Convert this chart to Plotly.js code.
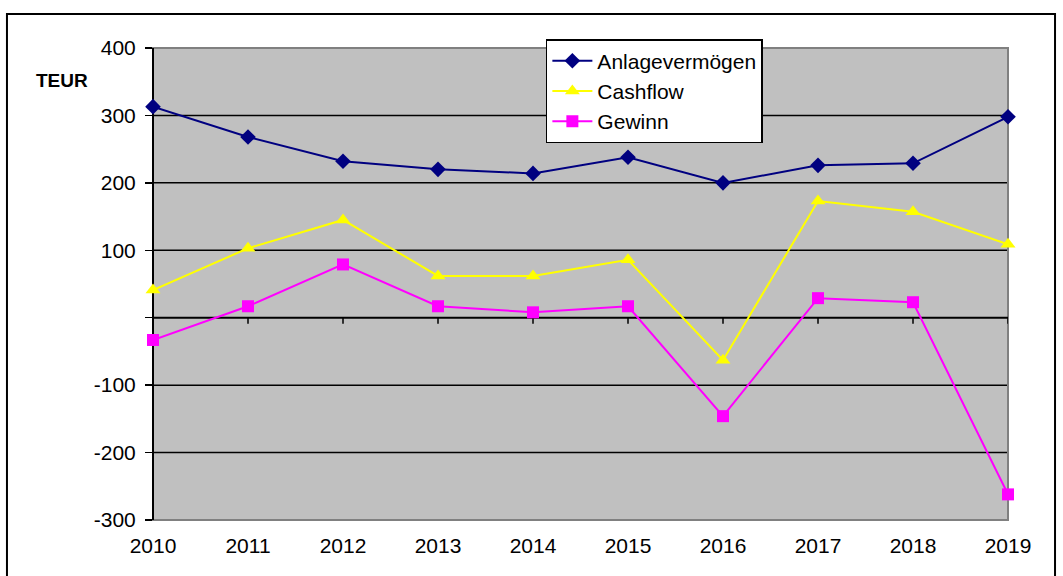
<!DOCTYPE html>
<html>
<head>
<meta charset="utf-8">
<script src="https://cdn.plot.ly/plotly-3.0.1.min.js"></script>
<style>html,body{margin:0;padding:0;background:#fff;}#chart{width:1063px;height:576px;}</style>
</head>
<body>
<div id="chart"></div>
<script>
const years = [2010, 2011, 2012, 2013, 2014, 2015, 2016, 2017, 2018, 2019];
const anlagevermoegen = [313, 268, 232, 220, 214, 238, 200, 226, 229, 298];
const cashflow = [41, 103, 145, 62, 62, 86, -63, 173, 157, 109];
const gewinn = [-33, 17, 79, 17, 8, 17, -146, 29, 23, -262];
const yTickVals = [-300, -200, -100, 0, 100, 200, 300, 400];
const yTickText = ['-300', '-200', '-100', '', '100', '200', '300', '400'];

const fontFam = 'Arial, "Liberation Sans", sans-serif';

const traces = [
  {x: years, y: anlagevermoegen, name: 'Anlagevermögen', type: 'scatter', mode: 'lines+markers', cliponaxis: false,
   line: {color: '#000080', width: 2}, marker: {symbol: 'diamond', size: 12, color: '#000080'}},
  {x: years, y: cashflow, name: 'Cashflow', type: 'scatter', mode: 'lines+markers', cliponaxis: false,
   line: {color: '#FFFF00', width: 2}, marker: {symbol: 'triangle-up', size: 13, color: '#FFFF00'}},
  {x: years, y: gewinn, name: 'Gewinn', type: 'scatter', mode: 'lines+markers', cliponaxis: false,
   line: {color: '#FF00FF', width: 2}, marker: {symbol: 'square', size: 12, color: '#FF00FF'}}
];

const shapes = [];
// outer frame
shapes.push({type: 'rect', xref: 'paper', yref: 'paper', x0: -0.1708, x1: 1.055, y0: -0.2, y1: 1.072,
  line: {color: '#000', width: 2}, fillcolor: 'rgba(0,0,0,0)', layer: 'below'});
// gridlines
[-200, -100, 100, 200, 300].forEach(v => shapes.push({type: 'line', xref: 'paper', yref: 'y',
  x0: 0, x1: 1, y0: v, y1: v, line: {color: '#000', width: 1.5}, layer: 'between'}));
// plot border gray
shapes.push({type: 'rect', xref: 'paper', yref: 'paper', x0: 0, x1: 1, y0: 0, y1: 1,
  line: {color: '#808080', width: 2}, fillcolor: 'rgba(0,0,0,0)', layer: 'between'});
// zero line
shapes.push({type: 'line', xref: 'paper', yref: 'y', x0: 0, x1: 1, y0: 0, y1: 0,
  line: {color: '#000', width: 2}, layer: 'between'});
// left axis line
shapes.push({type: 'line', xref: 'paper', yref: 'paper', x0: 0, x1: 0, y0: 0, y1: 1,
  line: {color: '#000', width: 2}, layer: 'between'});
// x ticks on zero line
years.forEach(yr => shapes.push({type: 'line', xref: 'x', yref: 'y', x0: yr, x1: yr, y0: 0, y1: -9,
  line: {color: '#000', width: 1.5}, layer: 'between'}));

const layout = {
  width: 1063, height: 576,
  margin: {l: 153, r: 55, t: 48, b: 56},
  paper_bgcolor: '#fff', plot_bgcolor: '#C0C0C0',
  font: {family: fontFam, size: 21, color: '#000'},
  showlegend: true,
  legend: {x: 0.4595, y: 1.019, xanchor: 'left', yanchor: 'top', bgcolor: '#fff',
    bordercolor: '#000', borderwidth: 1.5, font: {family: fontFam, size: 21, color: '#000'},
    tracegroupgap: 0, itemwidth: 40},
  xaxis: {range: [2010, 2019], tickvals: years, ticktext: years.map(String), showgrid: false,
    zeroline: false, showline: false, ticks: '', ticklabelstandoff: 11,
    tickfont: {family: fontFam, size: 21}},
  yaxis: {range: [-300, 400], tickvals: yTickVals, ticktext: yTickText, showgrid: false,
    zeroline: false, showline: false, ticks: 'outside', ticklen: 7, tickwidth: 1.5, tickcolor: '#000',
    ticklabelstandoff: 5, tickfont: {family: fontFam, size: 21}},
  shapes: shapes,
  annotations: [{text: '<b>TEUR</b>', xref: 'paper', yref: 'paper', x: (34 - 153) / 855, y: 1 - (80 - 48) / 472,
    xanchor: 'left', yanchor: 'middle', showarrow: false, font: {family: fontFam, size: 19, color: '#000'}}]
};

Plotly.newPlot('chart', traces, layout, {staticPlot: true, displayModeBar: false});
</script>
</body>
</html>
